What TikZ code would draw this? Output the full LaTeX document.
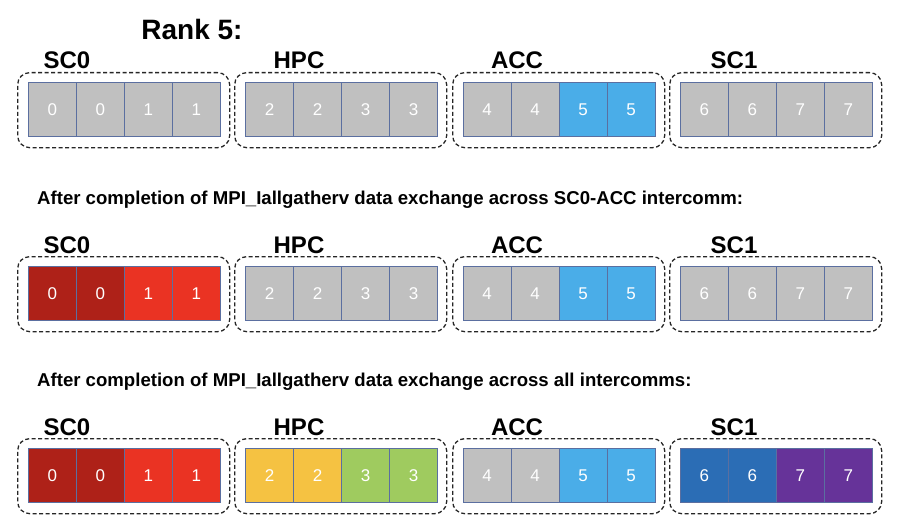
\documentclass[tikz,border=0pt]{standalone}
\usepackage{fontspec}
\setmainfont{Liberation Sans}
\usetikzlibrary{positioning}

\definecolor{cgrey}{HTML}{C0C0C0}
\definecolor{cedge}{HTML}{5B6FA0}
\definecolor{cdred}{HTML}{AE2118}
\definecolor{cred}{HTML}{EA3323}
\definecolor{cyel}{HTML}{F5C242}
\definecolor{cgreen}{HTML}{9FCB5F}
\definecolor{clblue}{HTML}{4AADE8}
\definecolor{cblue}{HTML}{2B6DB5}
\definecolor{cpurp}{HTML}{663399}

\begin{document}
\begin{tikzpicture}[x=1pt, y=-1pt]
        \tikzstyle{cell} = [rectangle, draw=cedge, line width=0.8pt, text=white,
        font=\fontsize{17}{17}\selectfont, minimum width=48pt, minimum height=54pt,
        inner sep=0pt, anchor=north west]
        \tikzstyle{grp} = [rectangle, draw=black!85, line width=1.3pt,
        dash pattern=on 4pt off 2.5pt, rounded corners=12pt,
        minimum width=212pt, minimum height=75pt, anchor=north west]
        \tikzset{lbl/.style={font=\bfseries\fontsize{24}{24}\selectfont, anchor=base}}
        \tikzset{sub/.style={font=\bfseries\fontsize{18.6}{18.6}\selectfont, anchor=base west, inner sep=0pt}}

        \useasboundingbox (0,0) rectangle (920,532);

        \node [font=\bfseries\fontsize{28}{28}\selectfont, anchor=base] (rank) at (192,40) {Rank 5:};
        \node [sub] (sub2) at (37,204) {After completion of MPI\_Iallgatherv data exchange across SC0-ACC intercomm:};
        \node [sub] (sub3) at (37,386) {After completion of MPI\_Iallgatherv data exchange across all intercomms:};

        \foreach \r/\y/\cols in {1/72/{cgrey,cgrey,cgrey,cgrey,cgrey,clblue,cgrey,cgrey},
                                 2/256/{cdred,cred,cgrey,cgrey,cgrey,clblue,cgrey,cgrey},
                                 3/438/{cdred,cred,cyel,cgreen,cgrey,clblue,cblue,cpurp}} {
            % dashed group frames and their names
            \foreach \g/\lab/\gx/\lx in {0/SC0/17/67, 1/HPC/234/299, 2/ACC/452/517, 3/SC1/669/734} {
                \node [grp] (g\r\g) at (\gx,\y) {};
                \node [lbl] (l\r\g) at (\lx,\y-3) {\lab};
            }
            % two cells per rank
            \foreach \c [count=\rk from 0] in \cols {
                \foreach \j in {0,1} {
                    \pgfmathtruncatemacro{\k}{2*\rk+\j}
                    \pgfmathsetmacro{\cx}{28+217.3*int(\k/4)+48*mod(\k,4)}
                    \node [cell, fill=\c] (c\r-\k) at (\cx,\y+10) {\rk};
                }
            }
        }
\end{tikzpicture}
\end{document}
